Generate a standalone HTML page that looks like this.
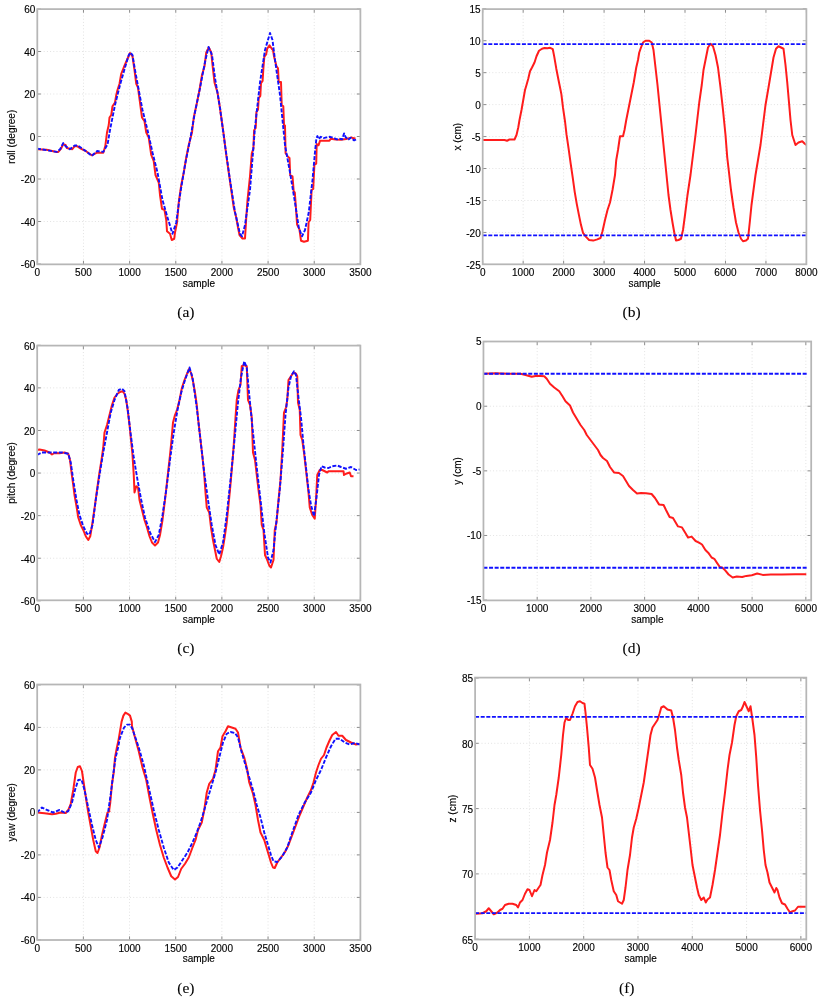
<!DOCTYPE html>
<html><head><meta charset="utf-8"><style>
html,body{margin:0;padding:0;background:#fff;}
svg{display:block;}
text{font-family:"Liberation Sans",sans-serif;font-size:10px;fill:#000;stroke:#000;stroke-width:0.15px;}
text.cap{font-family:"Liberation Serif",serif;font-size:15.5px;fill:#000;stroke-width:0.1px;}
</style></head><body>
<svg width="822" height="1000" viewBox="0 0 822 1000">
<path d="M83.46 9.1V264.35M129.61 9.1V264.35M175.77 9.1V264.35M221.93 9.1V264.35M268.09 9.1V264.35M314.24 9.1V264.35M37.3 221.5H360.4M37.3 179H360.4M37.3 136.5H360.4M37.3 94H360.4M37.3 51.5H360.4" stroke="#e2e2e2" stroke-width="1" stroke-dasharray="1 2.2" fill="none"/>
<path d="M37.3 264.35v-3.6M37.3 9.1v3.6M83.46 264.35v-3.6M83.46 9.1v3.6M129.61 264.35v-3.6M129.61 9.1v3.6M175.77 264.35v-3.6M175.77 9.1v3.6M221.93 264.35v-3.6M221.93 9.1v3.6M268.09 264.35v-3.6M268.09 9.1v3.6M314.24 264.35v-3.6M314.24 9.1v3.6M360.4 264.35v-3.6M360.4 9.1v3.6M37.3 264h3.6M360.4 264h-3.6M37.3 221.5h3.6M360.4 221.5h-3.6M37.3 179h3.6M360.4 179h-3.6M37.3 136.5h3.6M360.4 136.5h-3.6M37.3 94h3.6M360.4 94h-3.6M37.3 51.5h3.6M360.4 51.5h-3.6M37.3 9h3.6M360.4 9h-3.6" stroke="#8c8c8c" stroke-width="1" fill="none"/>
<path d="M523.16 9.1V264.3M563.62 9.1V264.3M604.09 9.1V264.3M644.55 9.1V264.3M685.01 9.1V264.3M725.47 9.1V264.3M765.94 9.1V264.3M482.7 232.44H806.4M482.7 200.49H806.4M482.7 168.53H806.4M482.7 136.57H806.4M482.7 104.62H806.4M482.7 72.66H806.4M482.7 40.71H806.4" stroke="#e2e2e2" stroke-width="1" stroke-dasharray="1 2.2" fill="none"/>
<path d="M482.7 264.3v-3.6M482.7 9.1v3.6M523.16 264.3v-3.6M523.16 9.1v3.6M563.62 264.3v-3.6M563.62 9.1v3.6M604.09 264.3v-3.6M604.09 9.1v3.6M644.55 264.3v-3.6M644.55 9.1v3.6M685.01 264.3v-3.6M685.01 9.1v3.6M725.47 264.3v-3.6M725.47 9.1v3.6M765.94 264.3v-3.6M765.94 9.1v3.6M806.4 264.3v-3.6M806.4 9.1v3.6M482.7 264.4h3.6M806.4 264.4h-3.6M482.7 232.44h3.6M806.4 232.44h-3.6M482.7 200.49h3.6M806.4 200.49h-3.6M482.7 168.53h3.6M806.4 168.53h-3.6M482.7 136.57h3.6M806.4 136.57h-3.6M482.7 104.62h3.6M806.4 104.62h-3.6M482.7 72.66h3.6M806.4 72.66h-3.6M482.7 40.71h3.6M806.4 40.71h-3.6M482.7 8.75h3.6M806.4 8.75h-3.6" stroke="#8c8c8c" stroke-width="1" fill="none"/>
<path d="M83.37 345.6V600.3M129.54 345.6V600.3M175.71 345.6V600.3M221.89 345.6V600.3M268.06 345.6V600.3M314.23 345.6V600.3M37.2 558.22H360.4M37.2 515.63H360.4M37.2 473.05H360.4M37.2 430.47H360.4M37.2 387.88H360.4" stroke="#e2e2e2" stroke-width="1" stroke-dasharray="1 2.2" fill="none"/>
<path d="M37.2 600.3v-3.6M37.2 345.6v3.6M83.37 600.3v-3.6M83.37 345.6v3.6M129.54 600.3v-3.6M129.54 345.6v3.6M175.71 600.3v-3.6M175.71 345.6v3.6M221.89 600.3v-3.6M221.89 345.6v3.6M268.06 600.3v-3.6M268.06 345.6v3.6M314.23 600.3v-3.6M314.23 345.6v3.6M360.4 600.3v-3.6M360.4 345.6v3.6M37.2 600.8h3.6M360.4 600.8h-3.6M37.2 558.22h3.6M360.4 558.22h-3.6M37.2 515.63h3.6M360.4 515.63h-3.6M37.2 473.05h3.6M360.4 473.05h-3.6M37.2 430.47h3.6M360.4 430.47h-3.6M37.2 387.88h3.6M360.4 387.88h-3.6M37.2 345.3h3.6M360.4 345.3h-3.6" stroke="#8c8c8c" stroke-width="1" fill="none"/>
<path d="M537.18 341.5V600.4M590.91 341.5V600.4M644.64 341.5V600.4M698.37 341.5V600.4M752.1 341.5V600.4M805.83 341.5V600.4M483.45 535.48H811.2M483.45 470.85H811.2M483.45 406.23H811.2" stroke="#e2e2e2" stroke-width="1" stroke-dasharray="1 2.2" fill="none"/>
<path d="M483.45 600.4v-3.6M483.45 341.5v3.6M537.18 600.4v-3.6M537.18 341.5v3.6M590.91 600.4v-3.6M590.91 341.5v3.6M644.64 600.4v-3.6M644.64 341.5v3.6M698.37 600.4v-3.6M698.37 341.5v3.6M752.1 600.4v-3.6M752.1 341.5v3.6M805.83 600.4v-3.6M805.83 341.5v3.6M483.45 600.1h3.6M811.2 600.1h-3.6M483.45 535.48h3.6M811.2 535.48h-3.6M483.45 470.85h3.6M811.2 470.85h-3.6M483.45 406.23h3.6M811.2 406.23h-3.6M483.45 341.6h3.6M811.2 341.6h-3.6" stroke="#8c8c8c" stroke-width="1" fill="none"/>
<path d="M83.37 684.5V940M129.54 684.5V940M175.71 684.5V940M221.89 684.5V940M268.06 684.5V940M314.23 684.5V940M37.2 897.4H360.4M37.2 854.9H360.4M37.2 812.4H360.4M37.2 769.9H360.4M37.2 727.4H360.4" stroke="#e2e2e2" stroke-width="1" stroke-dasharray="1 2.2" fill="none"/>
<path d="M37.2 940v-3.6M37.2 684.5v3.6M83.37 940v-3.6M83.37 684.5v3.6M129.54 940v-3.6M129.54 684.5v3.6M175.71 940v-3.6M175.71 684.5v3.6M221.89 940v-3.6M221.89 684.5v3.6M268.06 940v-3.6M268.06 684.5v3.6M314.23 940v-3.6M314.23 684.5v3.6M360.4 940v-3.6M360.4 684.5v3.6M37.2 939.9h3.6M360.4 939.9h-3.6M37.2 897.4h3.6M360.4 897.4h-3.6M37.2 854.9h3.6M360.4 854.9h-3.6M37.2 812.4h3.6M360.4 812.4h-3.6M37.2 769.9h3.6M360.4 769.9h-3.6M37.2 727.4h3.6M360.4 727.4h-3.6M37.2 684.9h3.6M360.4 684.9h-3.6" stroke="#8c8c8c" stroke-width="1" fill="none"/>
<path d="M529.4 677.6V939.5M583.69 677.6V939.5M637.99 677.6V939.5M692.28 677.6V939.5M746.58 677.6V939.5M800.87 677.6V939.5M475.1 873.9H806.3M475.1 808.6H806.3M475.1 743.3H806.3" stroke="#e2e2e2" stroke-width="1" stroke-dasharray="1 2.2" fill="none"/>
<path d="M475.1 939.5v-3.6M475.1 677.6v3.6M529.4 939.5v-3.6M529.4 677.6v3.6M583.69 939.5v-3.6M583.69 677.6v3.6M637.99 939.5v-3.6M637.99 677.6v3.6M692.28 939.5v-3.6M692.28 677.6v3.6M746.58 939.5v-3.6M746.58 677.6v3.6M800.87 939.5v-3.6M800.87 677.6v3.6M475.1 939.2h3.6M806.3 939.2h-3.6M475.1 873.9h3.6M806.3 873.9h-3.6M475.1 808.6h3.6M806.3 808.6h-3.6M475.1 743.3h3.6M806.3 743.3h-3.6M475.1 678h3.6M806.3 678h-3.6" stroke="#8c8c8c" stroke-width="1" fill="none"/>
<clipPath id="clip-a"><rect x="37.3" y="9" width="323.1" height="255"/></clipPath>
<g clip-path="url(#clip-a)"><path d="M37 149.2 46.7 149.8 56.5 151.9 58.3 151.9 60.7 149.2 63.2 144.3 65.6 144.9 66.8 148 72.3 149.2 74.7 146.2 77.1 146.2 80.8 148.6 85.7 151 91.7 155.3 96.6 152.8 103.3 152.8 105.3 146 107 132.5 108.75 125 109.5 117.5 111.25 115 112.5 106.25 115 102.5 116.25 95 117.5 90 119.5 83.75 121.25 73.75 123.75 67.5 127.5 58.75 130 53 132.5 56.25 134.5 70 136.25 83.75 138 87.5 140 102.5 142 117.5 144.5 121.25 146.25 132.5 148.75 137.5 151.25 155 153.75 161.25 155.5 175 158.75 182.5 160 195 162 208.75 164.5 210 166.25 220 167 231.25 170 233.75 171.75 240 174.25 238.75 175 232.5 177 222.5 178.75 202.5 181.25 185 183.75 172.5 186.25 157.5 188.75 145 192 132.5 193.75 117.5 197 102.5 199.5 90 202 75 204.5 66.25 206.25 52.5 208.75 47.5 211.25 52.5 212.5 65 214.5 82.5 217.5 92.5 219.5 105 222 122.5 223.75 135 226.25 155 228.75 172.5 231.25 190 233.75 207.5 236.25 217.5 238 227.5 239.5 235 242.5 238.5 245 238.5 246.25 217.5 247.5 200 250 176.3 251.8 153.3 253.4 148.7 254.1 130.3 255.7 128 256.4 112 258 109.7 258.7 98.2 260.3 95.9 261 83.2 262.6 80.9 263.3 69.4 264.3 56.8 266.1 54.5 267.2 48.7 269.5 45.3 271.8 48.7 273 50 274.1 56.8 276.4 66 278 68.3 278.7 82 281 82 281.7 105 283.3 106.2 284 124.6 285 125.7 285.6 153.3 288 156.8 289.5 158 290.2 175.2 292.5 176.3 293.7 191.3 294.8 192.4 296 208.5 297.1 224.6 299.4 229.2 301 240.7 304 241.8 307.9 240.7 308.6 222.3 310.2 220 311.6 190 313.2 189 314.4 164.8 316.2 163.7 316.7 144.1 318.5 145.3 320.1 140.7 329.4 140.8 330.7 138.8 335.4 139.4 340.8 139.8 346.1 139.1 351.5 137.4 352.8 138.1 355.5 138.4" stroke="#ff1c1c" stroke-width="2" fill="none" stroke-linejoin="round"/><path d="M37 148.6 57 151.9 60.1 149.2 63.2 143.1 65.6 146.2 69.8 149.2 74.7 145.5 77.8 145.5 85.7 151 91.7 155.9 97.2 151 103.3 151.9 107.6 144.3 110 130 115 105 120 85 125 67.5 128.75 55 130.5 52.5 132.5 55 135 70 138.75 90 142.5 110 147.5 130 152.5 152.5 157.5 172.5 162.5 200 167.5 217.5 172.5 233.75 176.25 222.5 180 195 185 165 190 140 195 112 200 88 205 62 208.5 47 212 55 215 78 220 108 225 145 230 180 235 212 240 234 242 236.25 245 225 250 190 255 127.5 260 82.5 265 50 270 33 272.5 40 275 60 280 95 285 145 290 172.5 295 202.5 298.75 227.5 302 236.25 305 230 308.75 212.5 312.5 180 315 152 316.35 138.8 317.4 136.1 318.7 139.1 320.7 136.8 323.4 138.1 326.7 137.4 330.1 136.8 333.4 137.8 336.8 139.4 340.1 138.8 342.1 139.4 344.1 133.4 345.5 136.8 348.1 139.8 350.8 137.8 354.2 140.4 356.8 139.1" stroke="#1010ff" stroke-width="1.9" fill="none" stroke-dasharray="4 1.6" stroke-linejoin="round"/></g>
<clipPath id="clip-b"><rect x="482.7" y="8.75" width="323.7" height="255.65"/></clipPath>
<g clip-path="url(#clip-b)"><path d="M483 140 504.5 140 507 140.75 509.5 139.5 514.5 139.5 516.5 135 518.25 127.5 519.5 120 521.5 110 523.25 100 525 90 526.5 85 528.25 78.75 530 71.25 532 67.5 534.5 62.5 536.5 56.25 539 50.75 542 48.75 544.5 48 547.5 48.25 550.1 47.8 552.8 49.2 554.2 56.4 556.3 68.7 558.3 79 560.4 89.2 561.4 94.4 563 107.7 565.1 122 566.5 134.4 568.6 148.7 570.6 163.1 572.7 177.4 574.7 191.8 576.8 204.1 578.8 214.4 580.9 224.6 583 232.8 586 236.9 589.1 240 593.2 240.6 597.3 239.4 600.5 238 602.5 231.25 605 220 607.5 210 610 202.5 612.5 190 615 175 616.25 160 618 150 620 136.25 623 136.25 624.5 130 626.25 120 628.75 107.5 631.25 95 633.75 82.5 636.25 67.5 638 60 639.25 52.5 641 47.5 643 42.5 645.5 40.75 649.25 40.75 651.75 42.5 653.5 50 655.5 67.5 657.5 85 659.25 102.5 661 120 663 140 665 160 666.75 177.5 668.5 195 670.5 210 672.5 222.5 674.25 232.5 676 240.5 678.5 240 681 238.75 683 230 685 215 687.5 195 690.5 175 693 155 695.5 135 697.5 117.5 699.25 102.5 701.75 85 703.5 70 706 57.5 708 47.5 710.5 43.75 713 46.25 715.5 55 718 67.5 720.5 87.5 723 110 725.5 135 727.25 157.5 729 172.5 731 190 733.5 207.5 736 222.5 738.5 232.5 741 238.75 743 241.25 746 240.5 748 238.75 749.75 222.5 751.5 205 753.5 190 755.5 175 758 160 760.5 145 763 125 765.5 105 768.5 87.5 771 72.5 773.5 57.5 776 48.75 778.5 46.25 781 47.5 783.5 48.75 785.5 65 787.25 82.5 789 102.5 790.5 120 792.25 135 795.5 145 798.5 142.5 802.25 141.25 804.75 143.75 806.5 145" stroke="#ff1c1c" stroke-width="2" fill="none" stroke-linejoin="round"/><path d="M482.7 44.1 806.4 44.1" stroke="#1010ff" stroke-width="1.9" fill="none" stroke-dasharray="4 1.6" stroke-linejoin="round"/><path d="M482.7 235.4 806.4 235.4" stroke="#1010ff" stroke-width="1.9" fill="none" stroke-dasharray="4 1.6" stroke-linejoin="round"/></g>
<clipPath id="clip-c"><rect x="37.2" y="345.3" width="323.2" height="255.5"/></clipPath>
<g clip-path="url(#clip-c)"><path d="M37 450 39.5 449.5 44.5 450.5 49.5 452.5 52 454.5 54.5 453 59.5 453.25 64.5 452.5 68.25 453.75 70 460 71.5 472.5 73.25 485 74.5 495 76.5 506.25 78.25 517.5 80.75 525 83.25 530 85.75 536.25 88.25 540 90.25 536.25 92.5 522.5 95 505 97 490 99.5 472.5 101.5 460 103.25 447.5 104.5 432.5 107 425 109.5 415 112 405 114.5 397.5 117.5 393.75 120 392 122.5 391.25 124.5 393.75 126.25 400 128 412.5 129.5 425 131.25 442.5 132.5 455 133.75 475 134.5 492.5 136.25 486.25 138 487.5 139.5 500 142 510 144.5 520 147 527.5 149.5 536.25 152 542.5 155 545.5 158 542.5 160 535 162.5 520 165 500 167.5 477.5 170 455 171.25 442.5 173 422.5 175 415 177 410 179.5 400 182 387.5 184.5 380 187 373.75 189.25 368.75 191.25 373.75 193 381.25 195 392.5 196.75 405 198.5 422.5 200.5 440 202.5 457.5 204.25 475 205.5 492.5 206.75 507.5 209.25 512.5 211 527.5 213 540 215 550 216.75 558.75 219.25 562 221 556.25 223 547.5 225 535 226.75 522.5 228 510 230 490 231.75 470 233 455 234.25 437.5 235.5 417.5 236.75 400 238.5 390 240.5 385 241.75 366.25 244.25 365 246.75 366.25 248 400 250 405 251.75 417.5 253 452.5 255 460 256.75 475 258.5 490 260.5 505 261.75 525 263.5 530 265 555 266.75 558.75 269.25 565.5 271 567.5 273.5 560 274.75 530 276.5 522.5 278.5 500 280.5 480 282.25 450 284 412.5 286 407.5 287.25 400 288.5 380 291 376.25 293.5 372.5 296 373.75 297.25 376.25 298 402.5 299.75 410 300.5 435 302.25 440 304 452.5 306 470 308.5 492.5 309.75 507.5 312.25 515 314.75 518.75 316 500 317.25 475 319.75 470 322.25 470 324.75 471.25 327.25 472.5 328.5 471.25 336 471.25 343.5 471.25 344 475 346 473.75 349.75 472.5 351 476.25 353.5 476.25" stroke="#ff1c1c" stroke-width="2" fill="none" stroke-linejoin="round"/><path d="M37 455 42 452.5 52 452.5 62 452.5 68.25 453.75 70.75 462.5 73.25 480 76.5 500 79.5 515 83.25 526.25 87 533.75 89.5 534.5 92.5 525 95.75 500 99.5 475 103.25 452.5 107 432.5 110.75 412.5 114.5 400 118.75 390 122 388.75 124.5 391.25 127.5 407.5 130.5 432.5 133.75 457.5 137.5 480 141.25 500 145 517.5 150 532.5 155 542 158.75 535 162.5 515 166.25 490 170 460 173.75 432.5 177.5 410 181.25 392.5 185 380 189.5 367.5 192.5 377.5 196.75 407.5 200.5 440 204.25 472.5 208 500 211.75 525 215.5 545 219.25 554.5 223 542.5 226.75 515 230.5 480 234.25 442.5 238 402.5 241 377.5 244.25 361.25 246.75 367.5 249.25 395 253 432.5 256.75 467.5 260.5 500 264.25 532.5 268 557.5 270.5 562.5 273.5 550 276 525 279.75 490 283 450 285.5 415 288.5 387.5 291 376.25 294 371.25 296 375 298.5 397.5 301 417.5 303.5 445 306 467.5 308.5 490 311 505 314 516.25 316.5 497.5 319 475 321.5 466.25 324.75 467.5 328.5 468 332.25 466.25 337.25 465.5 341 467 346 468.75 351 467 356 470 359.75 469.5" stroke="#1010ff" stroke-width="1.9" fill="none" stroke-dasharray="4 1.6" stroke-linejoin="round"/></g>
<clipPath id="clip-d"><rect x="483.45" y="341.6" width="327.75" height="258.5"/></clipPath>
<g clip-path="url(#clip-d)"><path d="M483.5 373.75 495.5 373.25 508 373.75 520.5 373.75 525.5 375 531.75 376.75 536.75 375.75 544.25 376.25 546.75 378.75 550 383.75 554.25 387.5 559.25 391.25 562.5 396.25 565.5 401.25 570 405.5 573 412.5 576.75 418.75 580.5 425 584.25 430 586.75 435 590.5 440 594.25 445 598 450 600.5 455 603 458 607 461 610 467 614 472.4 619 473 623 476 626 481 629 486 633 490 637 493.6 641 493 646 493.2 651.6 494 655 498 659 504.4 663.6 505 666 510 669.6 517 673 518 678 526.4 682 527.4 686 534 688 537.6 691.6 536.6 695.6 541 699 542.6 702 544.5 705.4 550 708.2 552.7 711.6 557.5 714.3 558.8 717 562.9 719.8 567 722.5 567.7 725.2 570.4 728.6 574.5 732.7 577.5 736.8 576.5 742.2 577 746.3 575.9 751.8 575.2 757.2 573.5 762.7 574.9 770.8 574.5 781.7 574.5 795.4 574.2 806.3 574.2" stroke="#ff1c1c" stroke-width="2" fill="none" stroke-linejoin="round"/><path d="M483.45 373.75 807 373.75" stroke="#1010ff" stroke-width="1.9" fill="none" stroke-dasharray="4 1.6" stroke-linejoin="round"/><path d="M483.45 567.8 807 567.8" stroke="#1010ff" stroke-width="1.9" fill="none" stroke-dasharray="4 1.6" stroke-linejoin="round"/></g>
<clipPath id="clip-e"><rect x="37.2" y="684.9" width="323.2" height="255"/></clipPath>
<g clip-path="url(#clip-e)"><path d="M37 812.5 44.5 813.25 52 814.25 55.75 813.75 60.75 812.5 65.75 813 68.25 810 70.75 803.75 73.25 790 75.75 772.5 77.75 767 80 766.25 82 771.25 84 785 86.25 800 88.25 812.5 90.75 826.25 93.25 840 95.75 851.25 97.5 853 99.5 847.5 102 835 105 822.5 107.5 812.5 109.5 811.25 109 811.6 110.2 803.2 112 784 113.8 772 115 757.6 116.8 748 118.6 739.6 119.8 732.4 121.6 721.6 123.4 715.6 125.4 712.6 127.6 713.8 130 715.6 131.8 721.6 132 726.25 135 737.5 138.75 751.25 142.5 767.5 146.25 780 149.5 797.5 152.5 812.5 156.25 830 160 845 163.75 857.5 167.5 867.5 171.25 876.25 175 879.5 178 877 181.25 868.75 185 863.75 188.75 857.5 192.5 847.5 195.5 840 198 830 201.75 822.5 204.25 810 206.75 792.5 209.25 783.75 213 778.75 215.5 770 218 751.25 220.5 747.5 222.5 736.25 225.5 731.25 228 726.25 231.75 727.5 235.5 728.75 238 732.5 240.5 747.5 244.25 757.5 246.75 767.5 249.25 782.5 253 793.75 255.5 805 258 820 260.5 832.5 264.25 840 268 852.5 271 862.5 273 867.5 274.75 868 277.25 862.5 281 857.5 284.75 852.5 288.5 845 292.25 835 296 825 299.75 815 303.5 806.25 307.25 797.5 311 790 313.5 782.5 316 772.5 318.5 765 321 758.75 324 755 326.5 747.5 329.75 740 332.25 735 336 732 338.5 735.75 342.25 735.75 346 740 351 742.5 356 744.5 359.75 743.75" stroke="#ff1c1c" stroke-width="2" fill="none" stroke-linejoin="round"/><path d="M37 812.5 42 807.5 47 810 53.25 812.5 59.5 810 64.5 812.5 68.25 811.25 72 802.5 75 790 78.25 780 81.5 779.5 84.5 790 88.25 807.5 92 825 95.75 840 99 847.5 102.5 837.5 107 820 110.8 793.6 113.2 774.4 115.6 757.6 118 748 119.8 738.4 121.6 733.6 124 727.6 127 724.6 130 724.6 132.4 728.8 138.75 747.5 143.75 765 148.75 787.5 153.75 810 158.75 830 163.75 847.5 168.75 862.5 173.75 870 177.5 867.5 182.5 860 187.5 852.5 192.5 842.5 196.75 832.5 200.5 822.5 204.25 810 208 797.5 211.75 785 215.5 772.5 219.25 757.5 223 742.5 226.75 733.75 230.5 732 235 733 238 737.5 241.75 752.5 245.5 765 249.25 777.5 253 790 256.75 805 260.5 817.5 264.25 832.5 268 845 271 855 273.5 861.25 277.25 862 282.25 856.25 287.25 847.5 292.25 832.5 298.5 815 304.75 802.5 311 792.5 316 780 321 770 326 757.5 331 746.25 335.5 738.75 339.75 738.75 344.75 742.5 349.75 744.5 354.75 743 359.75 744.5" stroke="#1010ff" stroke-width="1.9" fill="none" stroke-dasharray="4 1.6" stroke-linejoin="round"/></g>
<clipPath id="clip-f"><rect x="475.1" y="678" width="331.2" height="261.2"/></clipPath>
<g clip-path="url(#clip-f)"><path d="M475.5 913.75 482.5 913.25 486.25 911.25 488.75 908.25 491.25 911.25 493.75 914.25 497.5 912.5 500 910 502.5 908.75 505 905 508.75 903.75 512.5 903.75 516.25 905 518 907.5 520 902.5 522.5 900 525 893.75 527.5 889.25 529.5 890 532 896.25 534.5 890 536.25 891.25 538.75 887.5 540.5 885 542.5 875 545 865 547 852.5 550 840 552.5 822.5 554.5 805 556.25 795 558.75 777.5 561.25 755 563 735 564.5 722.5 566.25 717.5 568 720 570 720 572.5 713.75 575 706.25 577.5 702 580 701.25 582.5 703 584.5 703.75 585.5 712.5 587 727.5 588.75 747.5 590 765 592.5 768.75 595 777.5 597 790 599.5 805 602 817.5 603.75 835 605.5 852.5 607.5 867.5 609.5 870 611.25 880 613.75 891.25 616.25 895 618 901.25 620 902.5 622 903.75 623.75 900 625.5 887.5 627.5 870 630 855 632 837.5 633.75 827.5 636.25 818.75 638.75 807.5 641.25 795 643.75 782.5 646.25 765 648.75 747.5 650.5 735 652.5 727.5 655 723.75 657.5 720 659.5 713.75 661.25 707.5 663.75 706.25 667.5 709.5 671.25 710.5 673 717.5 675 730 677 747.5 678.75 760 681.25 775 683 792.5 685 807.5 687 817.5 688.75 832.5 690.5 847.5 692.5 865 695 877.5 697 887.5 698.75 895 701.25 900 703.75 897.5 705.75 902.5 707.5 899.5 710 897.5 712.5 885 715 870 717.5 852.5 720 835 722.5 812.5 725 792.5 727.5 770 729.5 755 732 742.5 734.5 725 736.25 716.25 738.75 711.25 741.25 710 743 706.25 744.5 702 747 707.5 748.75 711.25 750.5 706.25 752.5 720 754.5 735 756.25 757.5 758 785 760 810 762 830 763.75 850 765.5 865 767.5 872.5 769.5 882.5 772 887.5 774.5 892.5 776.25 888 777.5 890 779.5 897.5 782 903.25 785 904.5 787.5 908.75 790 912.5 792.5 911.25 795 910.5 798 906.75 802.5 906.75 806.25 906.75" stroke="#ff1c1c" stroke-width="2" fill="none" stroke-linejoin="round"/><path d="M475.1 716.9 806.3 716.9" stroke="#1010ff" stroke-width="1.9" fill="none" stroke-dasharray="4 1.6" stroke-linejoin="round"/><path d="M475.1 913.1 806.3 913.1" stroke="#1010ff" stroke-width="1.9" fill="none" stroke-dasharray="4 1.6" stroke-linejoin="round"/></g>
<rect x="37.3" y="9.1" width="323.1" height="255.25" fill="none" stroke="#b6b6b6" stroke-width="1.75"/>
<rect x="482.7" y="9.1" width="323.7" height="255.2" fill="none" stroke="#b6b6b6" stroke-width="1.75"/>
<rect x="37.2" y="345.6" width="323.2" height="254.7" fill="none" stroke="#b6b6b6" stroke-width="1.75"/>
<rect x="483.45" y="341.5" width="327.75" height="258.9" fill="none" stroke="#b6b6b6" stroke-width="1.75"/>
<rect x="37.2" y="684.5" width="323.2" height="255.5" fill="none" stroke="#b6b6b6" stroke-width="1.75"/>
<rect x="475.1" y="677.6" width="331.2" height="261.9" fill="none" stroke="#b6b6b6" stroke-width="1.75"/>
<g style="opacity:0.999"><text x="37.3" y="276.05" text-anchor="middle">0</text><text x="83.46" y="276.05" text-anchor="middle">500</text><text x="129.61" y="276.05" text-anchor="middle">1000</text><text x="175.77" y="276.05" text-anchor="middle">1500</text><text x="221.93" y="276.05" text-anchor="middle">2000</text><text x="268.09" y="276.05" text-anchor="middle">2500</text><text x="314.24" y="276.05" text-anchor="middle">3000</text><text x="360.4" y="276.05" text-anchor="middle">3500</text><text x="35.3" y="268.3" text-anchor="end">-60</text><text x="35.3" y="225.8" text-anchor="end">-40</text><text x="35.3" y="183.3" text-anchor="end">-20</text><text x="35.3" y="140.8" text-anchor="end">0</text><text x="35.3" y="98.3" text-anchor="end">20</text><text x="35.3" y="55.8" text-anchor="end">40</text><text x="35.3" y="13.3" text-anchor="end">60</text><text x="198.85" y="286.75" text-anchor="middle">sample</text><text transform="translate(14.8 136.73) rotate(-90)" x="0" y="0" text-anchor="middle">roll (degree)</text><text class="cap" x="177.3" y="316.8">(a)</text><text x="482.7" y="276" text-anchor="middle">0</text><text x="523.16" y="276" text-anchor="middle">1000</text><text x="563.62" y="276" text-anchor="middle">2000</text><text x="604.09" y="276" text-anchor="middle">3000</text><text x="644.55" y="276" text-anchor="middle">4000</text><text x="685.01" y="276" text-anchor="middle">5000</text><text x="725.47" y="276" text-anchor="middle">6000</text><text x="765.94" y="276" text-anchor="middle">7000</text><text x="806.4" y="276" text-anchor="middle">8000</text><text x="480.7" y="268.7" text-anchor="end">-25</text><text x="480.7" y="236.74" text-anchor="end">-20</text><text x="480.7" y="204.79" text-anchor="end">-15</text><text x="480.7" y="172.83" text-anchor="end">-10</text><text x="480.7" y="140.88" text-anchor="end">-5</text><text x="480.7" y="108.92" text-anchor="end">0</text><text x="480.7" y="76.96" text-anchor="end">5</text><text x="480.7" y="45.01" text-anchor="end">10</text><text x="480.7" y="13.05" text-anchor="end">15</text><text x="644.55" y="286.7" text-anchor="middle">sample</text><text transform="translate(460.7 136.7) rotate(-90)" x="0" y="0" text-anchor="middle">x (cm)</text><text class="cap" x="622.6" y="317">(b)</text><text x="37.2" y="612" text-anchor="middle">0</text><text x="83.37" y="612" text-anchor="middle">500</text><text x="129.54" y="612" text-anchor="middle">1000</text><text x="175.71" y="612" text-anchor="middle">1500</text><text x="221.89" y="612" text-anchor="middle">2000</text><text x="268.06" y="612" text-anchor="middle">2500</text><text x="314.23" y="612" text-anchor="middle">3000</text><text x="360.4" y="612" text-anchor="middle">3500</text><text x="35.2" y="605.1" text-anchor="end">-60</text><text x="35.2" y="562.52" text-anchor="end">-40</text><text x="35.2" y="519.93" text-anchor="end">-20</text><text x="35.2" y="477.35" text-anchor="end">0</text><text x="35.2" y="434.77" text-anchor="end">20</text><text x="35.2" y="392.18" text-anchor="end">40</text><text x="35.2" y="349.6" text-anchor="end">60</text><text x="198.8" y="622.7" text-anchor="middle">sample</text><text transform="translate(14.6 472.95) rotate(-90)" x="0" y="0" text-anchor="middle">pitch (degree)</text><text class="cap" x="177.3" y="653.1">(c)</text><text x="483.45" y="612.1" text-anchor="middle">0</text><text x="537.18" y="612.1" text-anchor="middle">1000</text><text x="590.91" y="612.1" text-anchor="middle">2000</text><text x="644.64" y="612.1" text-anchor="middle">3000</text><text x="698.37" y="612.1" text-anchor="middle">4000</text><text x="752.1" y="612.1" text-anchor="middle">5000</text><text x="805.83" y="612.1" text-anchor="middle">6000</text><text x="481.45" y="603.9" text-anchor="end">-15</text><text x="481.45" y="539.27" text-anchor="end">-10</text><text x="481.45" y="474.65" text-anchor="end">-5</text><text x="481.45" y="410.03" text-anchor="end">0</text><text x="481.45" y="345.4" text-anchor="end">5</text><text x="647.33" y="622.8" text-anchor="middle">sample</text><text transform="translate(460.7 470.95) rotate(-90)" x="0" y="0" text-anchor="middle">y (cm)</text><text class="cap" x="622.6" y="653.1">(d)</text><text x="37.2" y="951.7" text-anchor="middle">0</text><text x="83.37" y="951.7" text-anchor="middle">500</text><text x="129.54" y="951.7" text-anchor="middle">1000</text><text x="175.71" y="951.7" text-anchor="middle">1500</text><text x="221.89" y="951.7" text-anchor="middle">2000</text><text x="268.06" y="951.7" text-anchor="middle">2500</text><text x="314.23" y="951.7" text-anchor="middle">3000</text><text x="360.4" y="951.7" text-anchor="middle">3500</text><text x="35.2" y="943.5" text-anchor="end">-60</text><text x="35.2" y="901" text-anchor="end">-40</text><text x="35.2" y="858.5" text-anchor="end">-20</text><text x="35.2" y="816" text-anchor="end">0</text><text x="35.2" y="773.5" text-anchor="end">20</text><text x="35.2" y="731" text-anchor="end">40</text><text x="35.2" y="688.5" text-anchor="end">60</text><text x="198.8" y="962.4" text-anchor="middle">sample</text><text transform="translate(14.8 812.25) rotate(-90)" x="0" y="0" text-anchor="middle">yaw (degree)</text><text class="cap" x="177.3" y="992.6">(e)</text><text x="475.1" y="951.2" text-anchor="middle">0</text><text x="529.4" y="951.2" text-anchor="middle">1000</text><text x="583.69" y="951.2" text-anchor="middle">2000</text><text x="637.99" y="951.2" text-anchor="middle">3000</text><text x="692.28" y="951.2" text-anchor="middle">4000</text><text x="746.58" y="951.2" text-anchor="middle">5000</text><text x="800.87" y="951.2" text-anchor="middle">6000</text><text x="473.1" y="943.5" text-anchor="end">65</text><text x="473.1" y="878.2" text-anchor="end">70</text><text x="473.1" y="812.9" text-anchor="end">75</text><text x="473.1" y="747.6" text-anchor="end">80</text><text x="473.1" y="682.3" text-anchor="end">85</text><text x="640.7" y="961.9" text-anchor="middle">sample</text><text transform="translate(455.8 808.55) rotate(-90)" x="0" y="0" text-anchor="middle">z (cm)</text><text class="cap" x="619" y="992.6">(f)</text></g>
</svg>
</body></html>
